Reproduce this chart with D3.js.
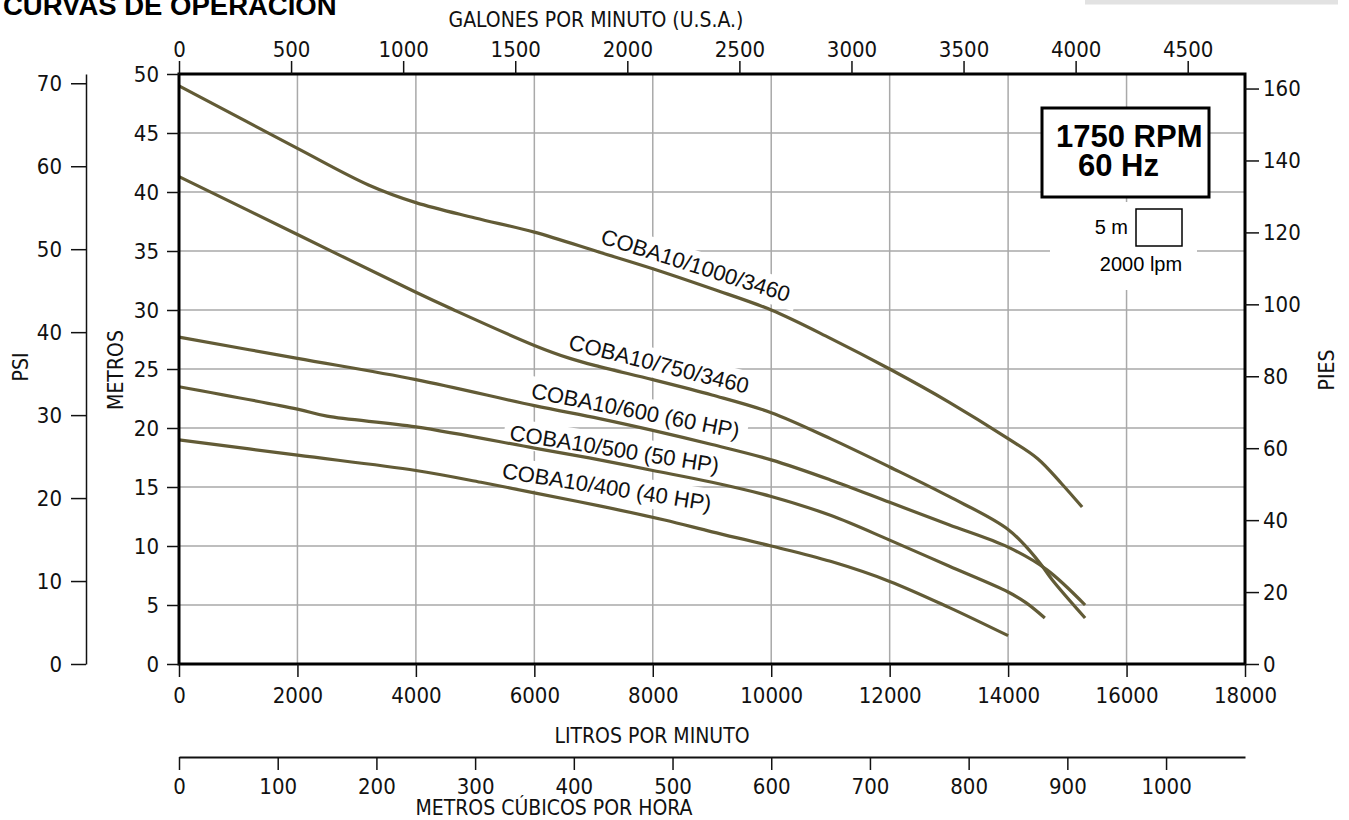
<!DOCTYPE html>
<html><head><meta charset="utf-8">
<script src="https://cdn.jsdelivr.net/npm/d3@7"></script>
<style>
html,body{margin:0;padding:0;background:#fff;}
svg{display:block;}
.ax text{font-family:"Liberation Sans Narrow","Arial Narrow","DejaVu Sans Condensed",sans-serif;font-size:22px;fill:#111;}
.ax line{stroke:#111;stroke-width:1.5;}
.ttl{font-family:"Liberation Sans Narrow","Arial Narrow","DejaVu Sans Condensed",sans-serif;font-size:21px;fill:#111;}
</style></head><body>
<svg id="chart" width="1349" height="820"></svg>
<script>
// ---------------- data ----------------
const lpmTicks   = [0,2000,4000,6000,8000,10000,12000,14000,16000,18000];
const meterTicks = [0,5,10,15,20,25,30,35,40,45,50];
const gpmTicks   = [0,500,1000,1500,2000,2500,3000,3500,4000,4500];
const m3hTicks   = [0,100,200,300,400,500,600,700,800,900,1000];
const ftTicks    = [0,20,40,60,80,100,120,140,160];
const psiTicks   = [0,10,20,30,40,50,60,70];

const seriesNames = ["COBA10/1000/3460","COBA10/750/3460","COBA10/600 (60 HP)","COBA10/500 (50 HP)","COBA10/400 (40 HP)"];

const flow1000 = [0,2000,3200,4000,5000,6000,7100,8000,9000,10000,11000,12000,13000,14000,14500,14900,15250];
const head1000 = [49.0,43.7,40.6,39.1,37.8,36.6,34.9,33.5,31.8,30.0,27.6,25.0,22.2,19.1,17.4,15.3,13.3];

const flow750 = [0,2000,4000,4600,6000,6600,7100,8000,9000,10000,11000,12000,13000,14000,14500,14750,15300];
const head750 = [41.3,36.4,31.5,30.1,27.0,25.9,25.2,24.1,22.8,21.3,19.1,16.7,14.2,11.4,8.8,7.1,3.9];

const flow600 = [0,2000,4000,6000,7100,8000,9000,10000,11000,12000,13000,14000,14650,15300];
const head600 = [27.7,25.9,24.1,21.9,20.8,19.8,18.6,17.3,15.6,13.7,11.8,9.9,8.0,5.0];

const flow500 = [0,2000,2500,4000,6000,7100,8000,9000,10000,11000,12000,13000,14000,14300,14620];
const head500 = [23.5,21.6,21.0,20.1,18.3,17.3,16.4,15.4,14.2,12.6,10.5,8.3,6.1,5.2,3.9];

const flow400 = [0,2000,4000,5100,6000,7100,8200,9000,10000,11000,12000,13000,14000];
const head400 = [19.0,17.7,16.4,15.4,14.5,13.4,12.2,11.2,10.0,8.7,7.0,4.8,2.4];

// label anchor (flow lpm, head m) and rotation
const labelFlow  = [7100,6560,5930,5570,5440];
const labelHead  = [35.68,26.69,22.54,18.98,15.76];
const labelAngle = [17.5,14,11,9,9];

// unit conversions
const LPM_PER_GPM = 3.785, LPM_PER_M3H = 16.667, M_PER_FT = 0.3048, M_PER_PSI = 0.70307;

// ---------------- chart ----------------
const svg = d3.select("#chart");
const x = d3.scaleLinear().domain([0,18000]).range([179,1245]);
const y = d3.scaleLinear().domain([0,50]).range([664,74]);
const xGpm = d3.scaleLinear().domain([0,18000/LPM_PER_GPM]).range(x.range());
const xM3h = d3.scaleLinear().domain([0,18000/LPM_PER_M3H]).range(x.range());
const yFt  = d3.scaleLinear().domain([0,50/M_PER_FT]).range(y.range());
const yPsi = d3.scaleLinear().domain([0,50/M_PER_PSI]).range(y.range());

const series = [
  d3.zip(flow1000,head1000), d3.zip(flow750,head750), d3.zip(flow600,head600),
  d3.zip(flow500,head500), d3.zip(flow400,head400)
];

// title and top bar
svg.append("rect").attr("x",1085).attr("y",0).attr("width",253).attr("height",4.5).attr("fill","#e2e2e2");
svg.append("text").attr("x",3).attr("y",15).text("CURVAS DE OPERACIÓN")
  .style("font-family","'Liberation Sans',Arial,sans-serif").style("font-weight","bold").style("font-size","27.5px").attr("fill","#000");

// grid
const grid = svg.append("g").attr("stroke","#a9a9a9").attr("stroke-width",1.5);
grid.selectAll(".gv").data(lpmTicks.slice(1,-1)).join("line").attr("class","gv")
  .attr("x1",d=>x(d)).attr("x2",d=>x(d)).attr("y1",y(0)).attr("y2",y(50));
grid.selectAll(".gh").data(meterTicks.slice(1,-1)).join("line").attr("class","gh")
  .attr("x1",x(0)).attr("x2",x(18000)).attr("y1",d=>y(d)).attr("y2",d=>y(d));

const bgLayer = svg.append("g");
const curveLayer = svg.append("g");
const textLayer = svg.append("g");

// curves
const line = d3.line().x(d=>x(d[0])).y(d=>y(d[1])).curve(d3.curveCatmullRom.alpha(0.5));
curveLayer.selectAll("path").data(series).join("path")
  .attr("d",line).attr("fill","none").attr("stroke","#625b36").attr("stroke-width",3.2)
  .attr("stroke-linejoin","round");

// curve labels with white background
seriesNames.forEach((name,i)=>{
  const tr = `translate(${x(labelFlow[i])},${y(labelHead[i])}) rotate(${labelAngle[i]})`;
  const t = textLayer.append("g").attr("transform",tr).append("text").text(name)
    .style("font-family","'Liberation Sans',Arial,sans-serif").style("font-size","22px").attr("fill","#111");
  const bb = t.node().getBBox();
  bgLayer.append("rect").attr("transform",tr)
    .attr("x",bb.x-6).attr("y",bb.y-2).attr("width",bb.width+14).attr("height",bb.height+4).attr("fill","#fff");
});

// legend block
const lg = svg.append("g");
lg.append("rect").attr("x",1050).attr("y",202).attr("width",147).attr("height",88).attr("fill","#fff");
lg.append("rect").attr("x",1042).attr("y",108).attr("width",167).attr("height",89)
  .attr("fill","#fff").attr("stroke","#000").attr("stroke-width",3);
lg.append("text").attr("x",1056).attr("y",147).text("1750 RPM")
  .style("font-family","'Liberation Sans',Arial,sans-serif").style("font-weight","bold").style("font-size","31px");
lg.append("text").attr("x",1078).attr("y",176).text("60 Hz")
  .style("font-family","'Liberation Sans',Arial,sans-serif").style("font-weight","bold").style("font-size","31px");
lg.append("rect").attr("x",1136).attr("y",209).attr("width",46).attr("height",37)
  .attr("fill","#fff").attr("stroke","#000").attr("stroke-width",1.5);
lg.append("text").attr("x",1128).attr("y",234).attr("text-anchor","end").text("5 m")
  .style("font-family","'Liberation Sans',Arial,sans-serif").style("font-size","20px");
lg.append("text").attr("x",1141).attr("y",271).attr("text-anchor","middle").text("2000 lpm")
  .style("font-family","'Liberation Sans',Arial,sans-serif").style("font-size","20px");

// plot border
svg.append("rect").attr("x",x(0)).attr("y",y(50)).attr("width",x(18000)-x(0)).attr("height",y(0)-y(50))
  .attr("fill","none").attr("stroke","#000").attr("stroke-width",3);

const fmt = d3.format("d");
function styleAxis(g, keepDomain, dw){
  g.attr("class","ax");
  g.select(".domain").attr("stroke","#111").attr("stroke-width",dw||1.5);
  if(!keepDomain) g.select(".domain").remove();
}

// bottom lpm
svg.append("g").attr("transform",`translate(0,${y(0)})`)
  .call(d3.axisBottom(x).tickValues(lpmTicks).tickFormat(fmt).tickSize(13).tickPadding(10).tickSizeOuter(0))
  .call(g=>styleAxis(g,false));
// top gpm
svg.append("g").attr("transform",`translate(0,${y(50)})`)
  .call(d3.axisTop(xGpm).tickValues(gpmTicks).tickFormat(fmt).tickSize(13).tickPadding(4).tickSizeOuter(0))
  .call(g=>styleAxis(g,false));
// left metros
svg.append("g").attr("transform",`translate(${x(0)},0)`)
  .call(d3.axisLeft(y).tickValues(meterTicks).tickFormat(fmt).tickSize(12).tickPadding(8).tickSizeOuter(0))
  .call(g=>styleAxis(g,false));
// right pies
svg.append("g").attr("transform",`translate(${x(18000)},0)`)
  .call(d3.axisRight(yFt).tickValues(ftTicks).tickFormat(fmt).tickSize(14).tickPadding(4).tickSizeOuter(0))
  .call(g=>styleAxis(g,false));
// psi
svg.append("g").attr("transform",`translate(86,0)`)
  .call(d3.axisLeft(yPsi).tickValues(psiTicks).tickFormat(fmt).tickSize(15).tickPadding(9).tickSizeOuter(0))
  .call(g=>styleAxis(g,true,1.5));
// m3/h
svg.append("g").attr("transform",`translate(0,757)`)
  .call(d3.axisBottom(xM3h).tickValues(m3hTicks).tickFormat(fmt).tickSize(13).tickPadding(8).tickSizeOuter(0))
  .call(g=>styleAxis(g,true,2));

// axis titles
svg.append("text").attr("class","ttl").attr("x",596).attr("y",27).attr("text-anchor","middle").text("GALONES POR MINUTO (U.S.A.)");
svg.append("text").attr("class","ttl").attr("x",652).attr("y",743).attr("text-anchor","middle").text("LITROS POR MINUTO");
svg.append("text").attr("class","ttl").attr("x",554).attr("y",815).attr("text-anchor","middle").text("METROS CÚBICOS POR HORA");
svg.append("text").attr("class","ttl").attr("transform","translate(28,367) rotate(-90)").attr("text-anchor","middle").text("PSI");
svg.append("text").attr("class","ttl").attr("transform","translate(123,370) rotate(-90)").attr("text-anchor","middle").text("METROS");
svg.append("text").attr("class","ttl").attr("transform","translate(1334,370) rotate(-90)").attr("text-anchor","middle").text("PIES");
</script>
</body></html>
